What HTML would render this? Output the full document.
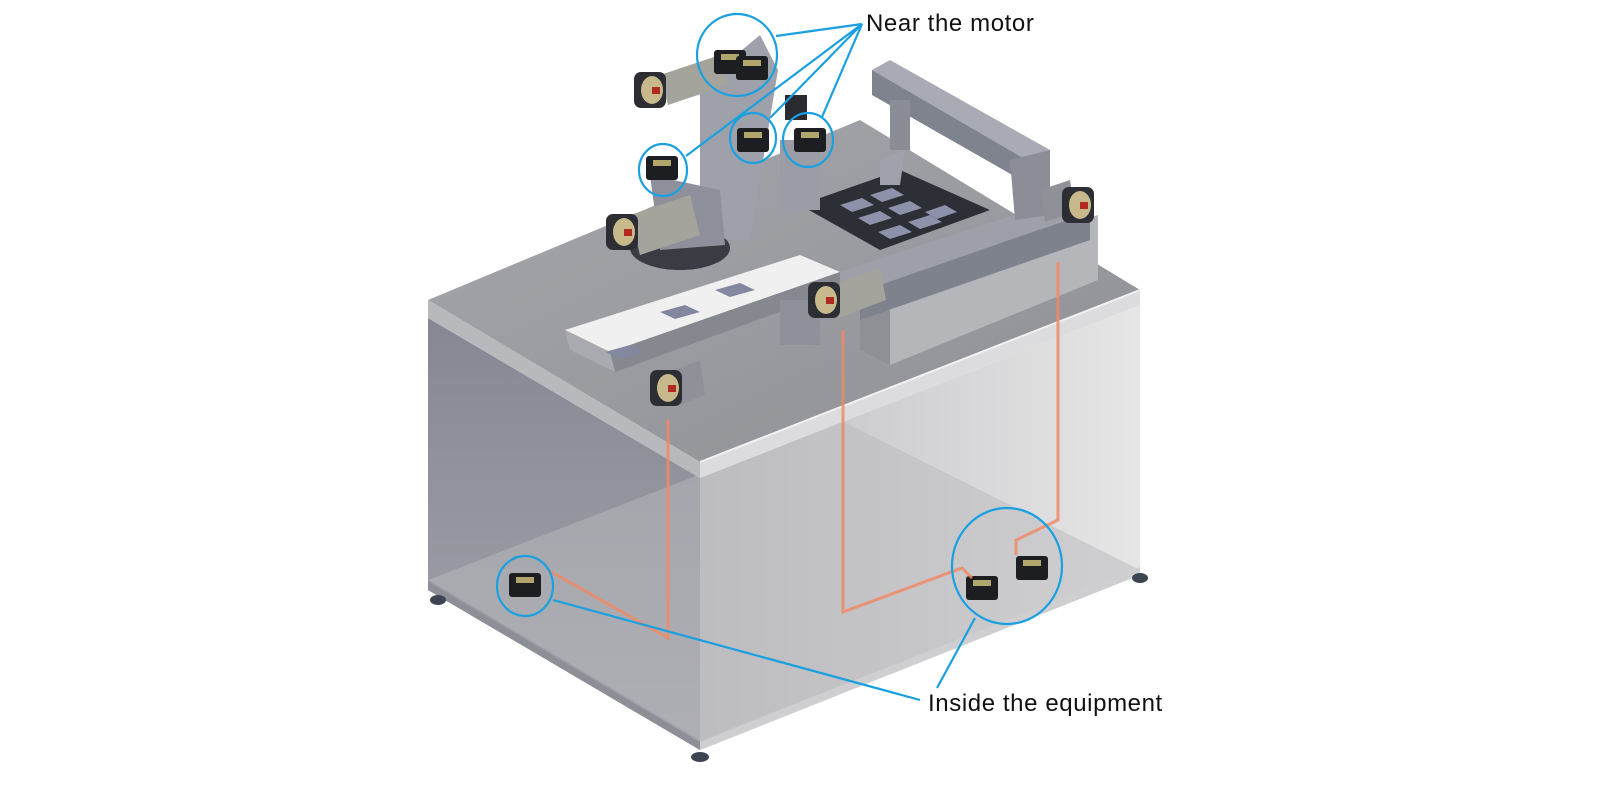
<!DOCTYPE html>
<html><head><meta charset="utf-8"><style>
html,body{margin:0;padding:0;background:#fff;}
svg{display:block}
text{font-family:"Liberation Sans",sans-serif;}
</style></head><body>
<svg width="1600" height="790" viewBox="0 0 1600 790" xmlns="http://www.w3.org/2000/svg">
<defs>
<linearGradient id="lf" x1="0" y1="0" x2="0" y2="1"><stop offset="0" stop-color="#858893"/><stop offset="1" stop-color="#a4a6ac"/></linearGradient>
<linearGradient id="rf" x1="0" y1="0" x2="1" y2="0"><stop offset="0" stop-color="#c0c0c3"/><stop offset="1" stop-color="#e6e6e7"/></linearGradient>
<linearGradient id="tp" x1="0" y1="0" x2="1" y2="1"><stop offset="0" stop-color="#a5a7ac"/><stop offset="1" stop-color="#8e9095"/></linearGradient>
<g id="mot"><rect x="-16" y="-18" width="32" height="36" rx="7" fill="#2c2e33"/><ellipse cx="2" cy="0" rx="11" ry="14" fill="#c8b98d"/><rect x="2" y="-3" width="8" height="7" fill="#b02a22"/></g>
<g id="drv"><rect x="-16" y="-12" width="32" height="24" rx="3" fill="#1d1e21"/><rect x="-9" y="-8" width="18" height="6" fill="#b3a66c"/></g>
</defs>
<polygon points="428,318 700,478 700,750 428,590" fill="url(#lf)"/>
<polygon points="700,478 1140,305 1140,575 700,750" fill="url(#rf)"/>
<polygon points="428,580 840,420 1140,570 700,740" fill="#b9babd" opacity="0.5"/>
<polygon points="428,590 700,750 700,742 428,582" fill="#8d8f96"/>
<polygon points="700,750 1140,575 1140,567 700,742" fill="#cfcfd1"/>
<ellipse cx="438" cy="600" rx="8" ry="5" fill="#3d4452"/>
<ellipse cx="700" cy="757" rx="9" ry="5" fill="#3d4452"/>
<ellipse cx="1140" cy="578" rx="8" ry="5" fill="#3d4452"/>
<polygon points="428,300 860,120 1140,290 700,462" fill="url(#tp)"/>
<polygon points="428,300 700,462 700,478 428,318" fill="#b8b9bd"/>
<polygon points="700,462 1140,290 1140,305 700,478" fill="#dcdcde"/>
<line x1="700" y1="462" x2="1140" y2="290" stroke="#f2f2f2" stroke-width="2"/>
<polygon points="890,285 1098,215 1098,280 890,365" fill="#b5b6ba"/>
<polygon points="860,270 890,285 890,365 860,350" fill="#8e9096"/>
<polygon points="830,275 1060,200 1090,212 860,292" fill="#9da0a8"/>
<polygon points="860,292 1090,212 1090,240 860,320" fill="#7e828c"/>
<polygon points="800,205 900,170 990,210 880,250" fill="#2d2f36"/>
<polygon points="840,205 862,198 874,205 852,212" fill="#8d91aa"/>
<polygon points="870,195 892,188 904,195 882,202" fill="#8d91aa"/>
<polygon points="858,218 880,211 892,218 870,225" fill="#8d91aa"/>
<polygon points="888,208 910,201 922,208 900,215" fill="#8d91aa"/>
<polygon points="878,232 900,225 912,232 890,239" fill="#8d91aa"/>
<polygon points="908,222 930,215 942,222 920,229" fill="#8d91aa"/>
<polygon points="925,212 945,205 957,212 937,219" fill="#8d91aa"/>
<polygon points="872,70 890,60 1050,150 1030,162" fill="#a8abb3"/>
<polygon points="872,70 1030,162 1030,185 872,95" fill="#7f838d"/>
<polygon points="1010,160 1050,150 1050,215 1015,220" fill="#8b8e96"/>
<rect x="890" y="100" width="20" height="50" fill="#8a8d95"/>
<polygon points="880,160 905,150 900,185 880,185" fill="#9fa2aa"/>
<polygon points="700,85 760,35 778,70 750,240 700,240" fill="#9ea1aa"/>
<ellipse cx="680" cy="248" rx="50" ry="22" fill="#3a3c43"/>
<polygon points="650,175 720,190 725,245 660,250" fill="#8d909a"/>
<!-- motor bodies -->
<polygon points="630,215 690,195 700,235 640,255" fill="#a4a49c"/>
<polygon points="660,75 720,55 728,85 668,105" fill="#a4a49c"/>
<polygon points="675,370 700,360 705,395 680,405" fill="#8f9198"/>
<polygon points="832,285 880,268 886,300 838,318" fill="#a4a49c"/>
<polygon points="1040,190 1070,180 1075,212 1045,222" fill="#8f9198"/>
<rect x="780" y="140" width="40" height="70" fill="#9a9da5"/>
<rect x="785" y="95" width="22" height="25" fill="#2a2b30"/>
<polygon points="565,330 800,255 840,272 610,352" fill="#f0f0f0"/>
<polygon points="610,352 840,272 840,290 615,372" fill="#85888f"/>
<polygon points="565,330 610,352 615,372 570,350" fill="#a8aab0"/>
<polygon points="605,352 630,345 645,352 620,359" fill="#8387a0"/>
<polygon points="660,312 685,305 700,312 675,319" fill="#8387a0"/>
<polygon points="715,290 740,283 755,290 730,297" fill="#8387a0"/>
<rect x="780" y="300" width="40" height="45" fill="#8e9199"/>
<use href="#mot" x="622" y="232"/>
<use href="#mot" x="666" y="388"/>
<use href="#mot" x="824" y="300"/>
<use href="#mot" x="1078" y="205"/>
<use href="#mot" x="650" y="90"/>
<use href="#drv" x="730" y="62"/>
<use href="#drv" x="752" y="68"/>
<use href="#drv" x="753" y="140"/>
<use href="#drv" x="810" y="140"/>
<use href="#drv" x="662" y="168"/>
<use href="#drv" x="525" y="585"/>
<use href="#drv" x="982" y="588"/>
<use href="#drv" x="1032" y="568"/>
<g fill="none" stroke="#f08a66" stroke-width="3" opacity="0.85">
<polyline points="668,420 668,638 548,570"/>
<polyline points="843,330 843,612 962,568 972,578"/>
<polyline points="1058,262 1058,520 1016,540 1016,555"/>
</g>
<g fill="none" stroke="#1aa0e0" stroke-width="2.2">
<ellipse cx="737" cy="55" rx="40" ry="41"/>
<ellipse cx="753" cy="138" rx="23" ry="25"/>
<ellipse cx="808" cy="140" rx="25" ry="27"/>
<ellipse cx="663" cy="170" rx="24" ry="26"/>
<ellipse cx="525" cy="586" rx="28" ry="30"/>
<ellipse cx="1007" cy="566" rx="55" ry="58"/>
<line x1="862" y1="24" x2="776" y2="36"/>
<line x1="862" y1="24" x2="770" y2="118"/>
<line x1="862" y1="24" x2="822" y2="117"/>
<line x1="862" y1="24" x2="686" y2="156"/>
<line x1="553" y1="600" x2="920" y2="700"/>
<line x1="975" y1="618" x2="937" y2="688"/>
</g>
<text x="866" y="31" font-size="24" letter-spacing="0.6" fill="#111">Near the motor</text>
<text x="928" y="711" font-size="24" letter-spacing="0.6" fill="#111">Inside the equipment</text>
</svg>
</body></html>
